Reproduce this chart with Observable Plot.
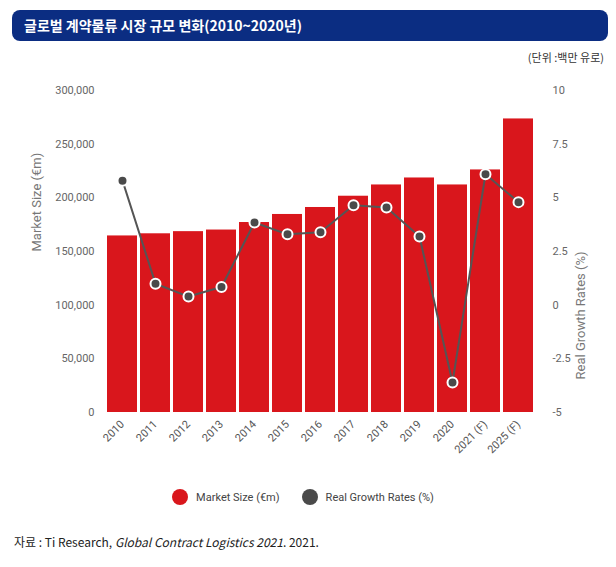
<!DOCTYPE html>
<html><head><meta charset="utf-8">
<script src="https://cdn.jsdelivr.net/npm/d3@7"></script>
<script src="https://cdn.jsdelivr.net/npm/@observablehq/plot@0.6"></script>
<style>
body{margin:0;font-family:"Noto Sans CJK KR","Noto Sans",sans-serif;background:#fff;width:616px}
#title{margin:10px 8px 0 12px;height:31px;background:#0b2d82;border-radius:8px;color:#fff;font-weight:bold;font-size:14px;line-height:31px;padding-left:12px}
#unit{text-align:right;font-size:11px;color:#333;margin:8px 12px 0 0;height:18px}
#legend{display:flex;justify-content:center;gap:22px;font-family:Roboto,sans-serif;font-size:11px;color:#444;margin-top:22px;margin-right:10px}
#legend span{display:inline-flex;align-items:center;gap:8px}
#legend i{display:inline-block;width:16px;height:16px;border-radius:50%}
#cap{font-size:12px;color:#222;margin:28px 0 0 14px;font-family:"Noto Sans CJK KR",sans-serif}
</style></head><body>
<div id="title">글로벌 계약물류 시장 규모 변화(2010~2020년)</div>
<div id="unit">(단위 :백만 유로)</div>
<div id="chart"></div>
<div id="legend"><span><i style="background:#d9161c"></i>Market Size (€m)</span><span><i style="background:#4a4a4a"></i>Real Growth Rates (%)</span></div>
<div id="cap">자료 : Ti Research, <i>Global Contract Logistics 2021</i>. 2021.</div>
<script>
const years=["2010","2011","2012","2013","2014","2015","2016","2017","2018","2019","2020","2021 (F)","2025 (F)"];
const marketSize=[164500,166500,168500,170000,177000,184500,191000,201500,212000,218500,212000,226000,273500];
const growth=[5.8,1.0,0.4,0.85,3.85,3.3,3.4,4.65,4.55,3.2,-3.6,6.1,4.8];
const leftTicks=[0,50000,100000,150000,200000,250000,300000];
const rightTicks=[-5,-2.5,0,2.5,5,7.5,10];
const toY=g=>(g+5)/15*300000;
const data=years.map((y,i)=>({year:y,size:marketSize[i],g:growth[i],gy:toY(growth[i])}));
const fmt=d3.format(",");
const chart=Plot.plot({
  width:616,height:400,marginTop:23,marginBottom:55,marginLeft:102,marginRight:78,
  style:{fontFamily:"Roboto,sans-serif",fontSize:"11px",color:"#555"},
  x:{domain:years,padding:0.08,label:null},
  y:{domain:[0,300000],label:null},
  marks:[
    Plot.barY(data,{x:"year",y:"size",fill:"#d9161c"}),
    Plot.line(data,{x:"year",y:"gy",stroke:"#555",strokeWidth:2}),
    Plot.dot(data,{x:"year",y:"gy",r:5,fill:"#4a4a4a",stroke:"#fff",strokeWidth:2}),
    Plot.axisX({tickRotate:-45,tickSize:0,tickPadding:10,label:null,fill:"#555"}),
    Plot.axisY({ticks:leftTicks,tickFormat:fmt,tickSize:0,tickPadding:8,label:null,fill:"#666"}),
    Plot.axisY({anchor:"right",ticks:rightTicks.map(toY),tickFormat:v=>String(+(v/300000*15-5).toFixed(1)),tickSize:0,tickPadding:14,label:null,fill:"#666"}),
    Plot.text(["Market Size (€m)"],{frameAnchor:"left",rotate:-90,dx:-66,fontSize:13,fill:"#777"}),
    Plot.text(["Real Growth Rates (%)"],{frameAnchor:"right",rotate:-90,dx:42,fontSize:13,fill:"#777"})
  ]
});
document.getElementById("chart").appendChild(chart);
</script>
</body></html>
